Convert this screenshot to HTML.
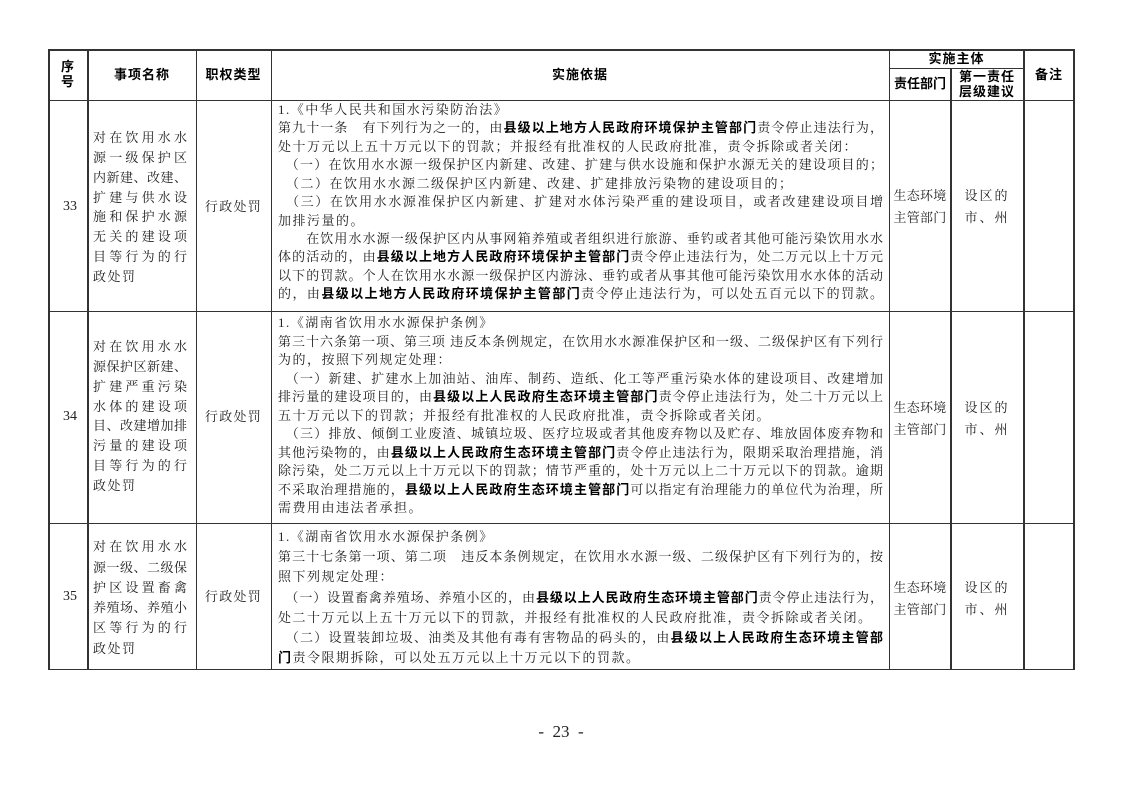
<!DOCTYPE html>
<html><head><meta charset="utf-8"><style>
html,body{margin:0;padding:0;background:#fff;}
body{width:1122px;height:793px;position:relative;overflow:hidden;font-family:"Liberation Serif","Noto Serif CJK SC",serif;color:#222;}
.h{position:absolute;background:#333;height:1.5px;}
.v{position:absolute;background:#333;width:1.5px;}
.l{position:absolute;left:278px;width:605px;height:18px;line-height:18px;font-size:13px;letter-spacing:1.5px;white-space:nowrap;text-align:left;}
.j{text-align:justify;text-align-last:justify;letter-spacing:0;}
.c{position:absolute;left:93px;width:94px;height:18px;line-height:18px;font-size:13px;white-space:nowrap;text-align:justify;text-align-last:justify;}
.cl{text-align-last:left;letter-spacing:1.5px;}
b{font-family:"Liberation Sans","Noto Sans CJK SC",sans-serif;font-weight:bold;color:#000;}
.hd{position:absolute;font-family:"Liberation Sans","Noto Sans CJK SC",sans-serif;font-weight:bold;font-size:13px;color:#000;text-align:center;line-height:15px;letter-spacing:1px;}
.t{position:absolute;font-size:13px;text-align:center;line-height:20px;letter-spacing:1.3px;}
.n{position:absolute;font-size:14px;text-align:center;line-height:20px;}
.d{position:absolute;left:889px;width:62px;font-size:13px;text-align:center;line-height:22px;letter-spacing:0.3px;}
.s{position:absolute;left:951px;width:72px;font-size:13px;text-align:center;line-height:22px;letter-spacing:2px;}
</style></head><body>
<div class="h" style="left:48px;top:49px;width:1026px"></div>
<div class="h" style="left:889px;top:67.5px;width:135px"></div>
<div class="h" style="left:48px;top:99.5px;width:1026px"></div>
<div class="h" style="left:48px;top:310.5px;width:1026px"></div>
<div class="h" style="left:48px;top:522.5px;width:1026px"></div>
<div class="h" style="left:48px;top:668.5px;width:1026px"></div>
<div class="v" style="left:48px;top:49px;height:621px"></div>
<div class="v" style="left:87px;top:49px;height:621px"></div>
<div class="v" style="left:195.5px;top:49px;height:621px"></div>
<div class="v" style="left:270.5px;top:49px;height:621px"></div>
<div class="v" style="left:888.5px;top:49px;height:621px"></div>
<div class="v" style="left:950px;top:68px;height:602px"></div>
<div class="v" style="left:1023px;top:49px;height:621px"></div>
<div class="v" style="left:1073px;top:49px;height:621px"></div>

<div class="hd" style="left:48px;top:59px;width:40px">序<br>号</div>
<div class="hd" style="left:88px;top:67px;width:108px">事项名称</div>
<div class="hd" style="left:196px;top:67px;width:75px">职权类型</div>
<div class="hd" style="left:271px;top:67px;width:618px">实施依据</div>
<div class="hd" style="left:889px;top:51px;width:135px">实施主体</div>
<div class="hd" style="left:889px;top:76px;width:62px;letter-spacing:0">责任部门</div>
<div class="hd" style="left:951px;top:69px;width:72px">第一责任<br>层级建议</div>
<div class="hd" style="left:1024px;top:67px;width:50px">备注</div>

<div class="n" style="left:50px;top:197px;width:40px">33</div>
<div class="c" style="top:129px">对在饮用水水</div>
<div class="c" style="top:149px">源一级保护区</div>
<div class="c" style="top:169px">内新建、改建、</div>
<div class="c" style="top:189px">扩建与供水设</div>
<div class="c" style="top:208px">施和保护水源</div>
<div class="c" style="top:228px">无关的建设项</div>
<div class="c" style="top:248px">目等行为的行</div>
<div class="c cl" style="top:268px">政处罚</div>
<div class="t" style="left:196px;top:197px;width:75px">行政处罚</div>
<div class="l" style="top:101px">1.《中华人民共和国水污染防治法》</div>
<div class="l j" style="top:119px">第九十一条　有下列行为之一的，由<b>县级以上地方人民政府环境保护主管部门</b>责令停止违法行为，</div>
<div class="l" style="top:138px">处十万元以上五十万元以下的罚款；并报经有批准权的人民政府批准，责令拆除或者关闭：</div>
<div class="l j" style="top:156px">　（一）在饮用水水源一级保护区内新建、改建、扩建与供水设施和保护水源无关的建设项目的；</div>
<div class="l" style="top:175px">　（二）在饮用水水源二级保护区内新建、改建、扩建排放污染物的建设项目的；</div>
<div class="l j" style="top:193px">　（三）在饮用水水源准保护区内新建、扩建对水体污染严重的建设项目，或者改建建设项目增</div>
<div class="l" style="top:212px">加排污量的。</div>
<div class="l j" style="top:230px">　　在饮用水水源一级保护区内从事网箱养殖或者组织进行旅游、垂钓或者其他可能污染饮用水水</div>
<div class="l j" style="top:248px">体的活动的，由<b>县级以上地方人民政府环境保护主管部门</b>责令停止违法行为，处二万元以上十万元</div>
<div class="l j" style="top:267px">以下的罚款。个人在饮用水水源一级保护区内游泳、垂钓或者从事其他可能污染饮用水水体的活动</div>
<div class="l j" style="top:285px">的，由<b>县级以上地方人民政府环境保护主管部门</b>责令停止违法行为，可以处五百元以下的罚款。</div>
<div class="d" style="top:185px">生态环境<br>主管部门</div>
<div class="s" style="top:185px">设区的<br>市、州</div>

<div class="n" style="left:50px;top:407px;width:40px">34</div>
<div class="c" style="top:338px">对在饮用水水</div>
<div class="c" style="top:358px">源保护区新建、</div>
<div class="c" style="top:378px">扩建严重污染</div>
<div class="c" style="top:398px">水体的建设项</div>
<div class="c" style="top:417px">目、改建增加排</div>
<div class="c" style="top:437px">污量的建设项</div>
<div class="c" style="top:457px">目等行为的行</div>
<div class="c cl" style="top:477px">政处罚</div>
<div class="t" style="left:196px;top:407px;width:75px">行政处罚</div>
<div class="l" style="top:314px">1.《湖南省饮用水水源保护条例》</div>
<div class="l j" style="top:333px">第三十六条第一项、第三项 违反本条例规定，在饮用水水源准保护区和一级、二级保护区有下列行</div>
<div class="l" style="top:351px">为的，按照下列规定处理：</div>
<div class="l j" style="top:370px">　（一）新建、扩建水上加油站、油库、制药、造纸、化工等严重污染水体的建设项目、改建增加</div>
<div class="l j" style="top:388px">排污量的建设项目的，由<b>县级以上人民政府生态环境主管部门</b>责令停止违法行为，处二十万元以上</div>
<div class="l" style="top:407px">五十万元以下的罚款；并报经有批准权的人民政府批准，责令拆除或者关闭。</div>
<div class="l j" style="top:425px">　（三）排放、倾倒工业废渣、城镇垃圾、医疗垃圾或者其他废弃物以及贮存、堆放固体废弃物和</div>
<div class="l j" style="top:444px">其他污染物的，由<b>县级以上人民政府生态环境主管部门</b>责令停止违法行为，限期采取治理措施，消</div>
<div class="l j" style="top:462px">除污染，处二万元以上十万元以下的罚款；情节严重的，处十万元以上二十万元以下的罚款。逾期</div>
<div class="l j" style="top:481px">不采取治理措施的，<b>县级以上人民政府生态环境主管部门</b>可以指定有治理能力的单位代为治理，所</div>
<div class="l" style="top:499px">需费用由违法者承担。</div>
<div class="d" style="top:397px">生态环境<br>主管部门</div>
<div class="s" style="top:397px">设区的<br>市、州</div>

<div class="n" style="left:50px;top:587px;width:40px">35</div>
<div class="c" style="top:538px">对在饮用水水</div>
<div class="c" style="top:559px">源一级、二级保</div>
<div class="c" style="top:579px">护区设置畜禽</div>
<div class="c" style="top:599px">养殖场、养殖小</div>
<div class="c" style="top:619px">区等行为的行</div>
<div class="c cl" style="top:640px">政处罚</div>
<div class="t" style="left:196px;top:587px;width:75px">行政处罚</div>
<div class="l" style="top:528px">1.《湖南省饮用水水源保护条例》</div>
<div class="l j" style="top:548px">第三十七条第一项、第二项　违反本条例规定，在饮用水水源一级、二级保护区有下列行为的，按</div>
<div class="l" style="top:568px">照下列规定处理：</div>
<div class="l j" style="top:589px">　（一）设置畜禽养殖场、养殖小区的，由<b>县级以上人民政府生态环境主管部门</b>责令停止违法行为，</div>
<div class="l" style="top:609px">处二十万元以上五十万元以下的罚款，并报经有批准权的人民政府批准，责令拆除或者关闭。</div>
<div class="l j" style="top:629px">　（二）设置装卸垃圾、油类及其他有毒有害物品的码头的，由<b>县级以上人民政府生态环境主管部</b></div>
<div class="l" style="top:649px"><b>门</b>责令限期拆除，可以处五万元以上十万元以下的罚款。</div>
<div class="d" style="top:577px">生态环境<br>主管部门</div>
<div class="s" style="top:577px">设区的<br>市、州</div>

<div style="position:absolute;left:461px;top:720px;width:200px;text-align:center;font-size:17px;line-height:24px;white-space:pre">-  23  -</div>
</body></html>
